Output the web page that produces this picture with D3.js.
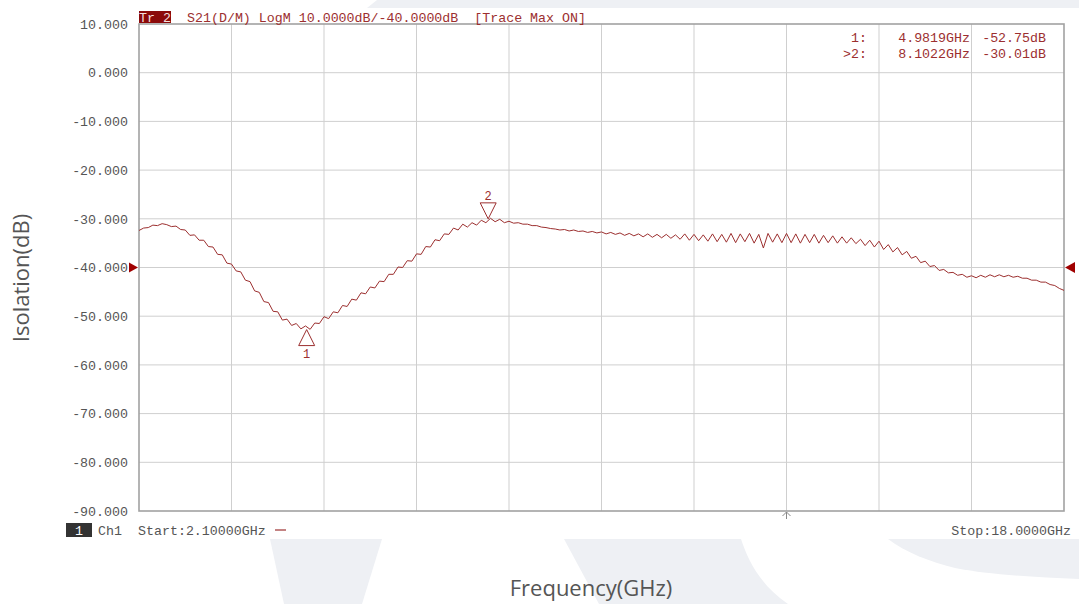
<!DOCTYPE html>
<html><head><meta charset="utf-8">
<script src="https://cdn.jsdelivr.net/npm/d3@7"></script>
<style>
html,body{margin:0;padding:0;background:#fff;}
svg{display:block;}
.mono{font-family:"Liberation Mono","DejaVu Sans Mono",monospace;}
</style></head>
<body>
<svg id="c" width="1079" height="604"></svg>
<script>
// ---- data ----
const START_GHZ = 2.1, STOP_GHZ = 18.0;
const yTicks = [10, 0, -10, -20, -30, -40, -50, -60, -70, -80, -90];
const isolation = [
-32.4,-31.9,-31.8,-31.3,-31.4,-31.0,-31.2,-31.6,-31.5,-32.2,
-32.3,-33.4,-33.3,-34.4,-34.4,-35.7,-35.8,-37.3,-37.4,-39.1,
-39.3,-40.7,-40.9,-42.6,-42.9,-44.8,-45.1,-47.0,-47.2,-49.0,
-49.1,-50.8,-50.6,-51.9,-51.5,-52.6,-52.0,-52.7,-51.4,-51.5,
-50.1,-50.5,-49.1,-49.3,-47.8,-48.0,-46.5,-46.7,-45.2,-45.4,
-44.0,-44.2,-42.8,-42.9,-41.4,-41.4,-39.9,-40.0,-38.6,-38.7,
-37.2,-37.3,-35.7,-35.8,-34.3,-34.5,-33.1,-33.2,-31.9,-32.3,
-31.1,-31.7,-30.8,-31.3,-30.3,-30.8,-29.9,-30.6,-30.1,-30.8,
-30.5,-30.9,-30.8,-31.1,-31.1,-31.4,-31.4,-31.7,-31.8,-32.0,
-32.1,-32.3,-32.2,-32.5,-32.3,-32.6,-32.5,-32.8,-32.6,-32.9,
-32.7,-33.1,-32.8,-33.2,-32.9,-33.4,-33.0,-33.5,-33.1,-33.7,
-33.1,-33.8,-33.2,-33.9,-33.2,-34.0,-33.3,-34.2,-33.1,-34.4,
-33.2,-34.5,-33.3,-34.6,-33.1,-34.7,-33.2,-34.8,-33.0,-34.9,
-33.1,-34.7,-33.0,-35.0,-33.2,-36.0,-33.0,-34.8,-33.1,-34.9,
-33.0,-34.9,-33.1,-35.0,-33.2,-34.9,-33.2,-35.0,-33.4,-34.9,
-33.5,-35.0,-33.7,-35.0,-33.9,-35.1,-34.2,-35.5,-34.4,-35.8,
-34.6,-36.3,-35.3,-36.8,-35.9,-37.4,-36.7,-38.1,-37.7,-39.0,
-38.7,-39.8,-39.6,-40.6,-40.4,-41.1,-41.0,-41.6,-41.4,-42.0,
-41.7,-42.1,-41.6,-42.0,-41.5,-41.9,-41.5,-41.9,-41.6,-42.0,
-41.8,-42.2,-42.2,-42.6,-42.6,-43.0,-43.0,-43.5,-43.7,-44.3,
-44.7];
const markerFreqs = [4.9819, 8.1022];
const markerVals = [-52.75, -30.01];
const markerNames = ["1", "2"];
const markerPrefix = ["1:", ">2:"];

// ---- layout ----
const L = 139, R = 1064, T = 24, B = 511;
const svg = d3.select("#c");
const x = d3.scaleLinear().domain([START_GHZ, STOP_GHZ]).range([L, R]);
const y = d3.scaleLinear().domain([-90, 10]).range([B, T]);
const N = isolation.length;
const freqs = isolation.map((_, i) => START_GHZ + i * (STOP_GHZ - START_GHZ) / (N - 1));

const RED = "#9c2f2f", WM = "#eef0f4";

// watermark background shapes
svg.append("path").attr("fill", WM).attr("d", "M377,0 L1079,0 L1079,8 L367,8 Z");
svg.append("path").attr("fill", WM).attr("d", "M270,539 L382,539 L362,604 L284,604 Z");
svg.append("path").attr("fill", WM).attr("d", "M564,539 L741,539 C748,560 760,585 788,604 L599,604 Z");
svg.append("path").attr("fill", WM).attr("d", "M888,539 L1079,539 L1079,579 C1030,577 985,574 955,568 C930,562 905,552 888,539 Z");

// plot background
svg.append("rect").attr("x", L).attr("y", T).attr("width", R - L).attr("height", B - T).attr("fill", "#fff");

// grid
const nDiv = 10;
const g = svg.append("g");
d3.range(1, nDiv).forEach(k => {
  const f = START_GHZ + k * (STOP_GHZ - START_GHZ) / nDiv;
  g.append("line").attr("x1", x(f)).attr("x2", x(f)).attr("y1", T).attr("y2", B)
    .attr("stroke", "#cfcfcf").attr("stroke-width", 1);
});
yTicks.slice(1, -1).forEach(v => {
  g.append("line").attr("x1", L).attr("x2", R).attr("y1", y(v)).attr("y2", y(v))
    .attr("stroke", "#cfcfcf").attr("stroke-width", 1);
});
// frame
svg.append("rect").attr("x", L).attr("y", T).attr("width", R - L).attr("height", B - T)
  .attr("fill", "none").attr("stroke", "#a2a2a2").attr("stroke-width", 1.6);

// y tick labels
svg.append("g").selectAll("text").data(yTicks).join("text")
  .attr("class", "mono").attr("x", 128).attr("y", d => y(d)).attr("dy", "0.36em")
  .attr("text-anchor", "end").attr("font-size", 13.3).attr("fill", "#555")
  .text(d => d3.format(".3f")(d).replace("−", "-"));

// reference level triangles
svg.append("path").attr("fill", "#a00000")
  .attr("d", `M${L - 1},${y(-40)} L${L - 10},${y(-40) - 5} L${L - 10},${y(-40) + 5} Z`);
svg.append("path").attr("fill", "#a00000")
  .attr("d", `M${R + 1},${y(-40)} L${R + 11},${y(-40) - 5.5} L${R + 11},${y(-40) + 5.5} Z`);

// trace
const line = d3.line().x((d, i) => x(freqs[i])).y(d => y(d));
svg.append("path").datum(isolation).attr("d", line).attr("fill", "none")
  .attr("stroke", RED).attr("stroke-width", 1).attr("stroke-linejoin", "round");

// markers
markerFreqs.forEach((f, i) => {
  const mx = x(f), my = y(markerVals[i]);
  if (i === 0) {
    svg.append("path").attr("fill", "none").attr("stroke", RED).attr("stroke-width", 1)
      .attr("d", `M${mx},${my} L${mx - 8},${my + 16} L${mx + 8},${my + 16} Z`);
    svg.append("text").attr("class", "mono").attr("x", mx).attr("y", my + 24).attr("dy", "0.36em")
      .attr("text-anchor", "middle").attr("font-size", 12).attr("fill", RED).text(markerNames[i]);
  } else {
    svg.append("path").attr("fill", "none").attr("stroke", RED).attr("stroke-width", 1)
      .attr("d", `M${mx},${my} L${mx - 8},${my - 16} L${mx + 8},${my - 16} Z`);
    svg.append("text").attr("class", "mono").attr("x", mx).attr("y", my - 23).attr("dy", "0.36em")
      .attr("text-anchor", "middle").attr("font-size", 12).attr("fill", RED).text(markerNames[i]);
  }
});

// marker readout
markerFreqs.forEach((f, i) => {
  const ty = 37 + i * 16;
  svg.append("text").attr("class", "mono").attr("x", 867).attr("y", ty).attr("dy", "0.36em")
    .attr("text-anchor", "end").attr("font-size", 13.3).attr("fill", RED).text(markerPrefix[i]);
  svg.append("text").attr("class", "mono").attr("x", 970).attr("y", ty).attr("dy", "0.36em")
    .attr("text-anchor", "end").attr("font-size", 13.3).attr("fill", RED).text(f.toFixed(4) + "GHz");
  svg.append("text").attr("class", "mono").attr("x", 1046).attr("y", ty).attr("dy", "0.36em")
    .attr("text-anchor", "end").attr("font-size", 13.3).attr("fill", RED).text(markerVals[i].toFixed(2) + "dB");
});

// header
svg.append("rect").attr("x", 139).attr("y", 11).attr("width", 32).attr("height", 12).attr("fill", "#8b0a0a");
svg.append("text").attr("class", "mono").attr("x", 155).attr("y", 17).attr("dy", "0.36em")
  .attr("text-anchor", "middle").attr("font-size", 13.3).attr("fill", "#f4dede").text("Tr 2");
svg.append("text").attr("class", "mono").attr("x", 187).attr("y", 17).attr("dy", "0.36em")
  .attr("font-size", 13.3).attr("fill", RED).attr("xml:space", "preserve")
  .style("white-space", "pre")
  .text("S21(D/M) LogM 10.0000dB/-40.0000dB  [Trace Max ON]");

// footer
svg.append("rect").attr("x", 66).attr("y", 523).attr("width", 26).attr("height", 14).attr("fill", "#333");
svg.append("text").attr("class", "mono").attr("x", 79).attr("y", 530).attr("dy", "0.36em")
  .attr("text-anchor", "middle").attr("font-size", 13.3).attr("fill", "#fff").text("1");
svg.append("text").attr("class", "mono").attr("x", 98).attr("y", 530).attr("dy", "0.36em")
  .attr("font-size", 13.3).attr("fill", "#555").text("Ch1");
svg.append("text").attr("class", "mono").attr("x", 138).attr("y", 530).attr("dy", "0.36em")
  .attr("font-size", 13.3).attr("fill", "#555").text("Start:" + START_GHZ.toFixed(5) + "GHz");
svg.append("line").attr("x1", 275).attr("x2", 286).attr("y1", 530).attr("y2", 530)
  .attr("stroke", RED).attr("stroke-width", 1.2);
svg.append("text").attr("class", "mono").attr("x", 1071).attr("y", 530).attr("dy", "0.36em")
  .attr("text-anchor", "end").attr("font-size", 13.3).attr("fill", "#555").text("Stop:" + STOP_GHZ.toFixed(4) + "GHz");
// bottom arrow at 7th grid division
const cx = x(START_GHZ + 0.7 * (STOP_GHZ - START_GHZ));
svg.append("path").attr("fill", "none").attr("stroke", "#888").attr("stroke-width", 1)
  .attr("d", `M${cx},${B + 1} L${cx},${B + 8} M${cx - 4},${B + 5} L${cx},${B + 1} L${cx + 4},${B + 5}`);

// axis titles
svg.append("text").attr("transform", "translate(29,278) rotate(-90)")
  .attr("text-anchor", "middle").attr("font-family", "'Open Sans', 'Noto Sans', sans-serif")
  .attr("font-size", 22).attr("fill", "#555").text("Isolation(dB)");
svg.append("text").attr("x", 591).attr("y", 596)
  .attr("text-anchor", "middle").attr("font-family", "'Open Sans', 'Noto Sans', sans-serif")
  .attr("font-size", 22).attr("fill", "#555").text("Frequency(GHz)");
</script>
</body></html>
